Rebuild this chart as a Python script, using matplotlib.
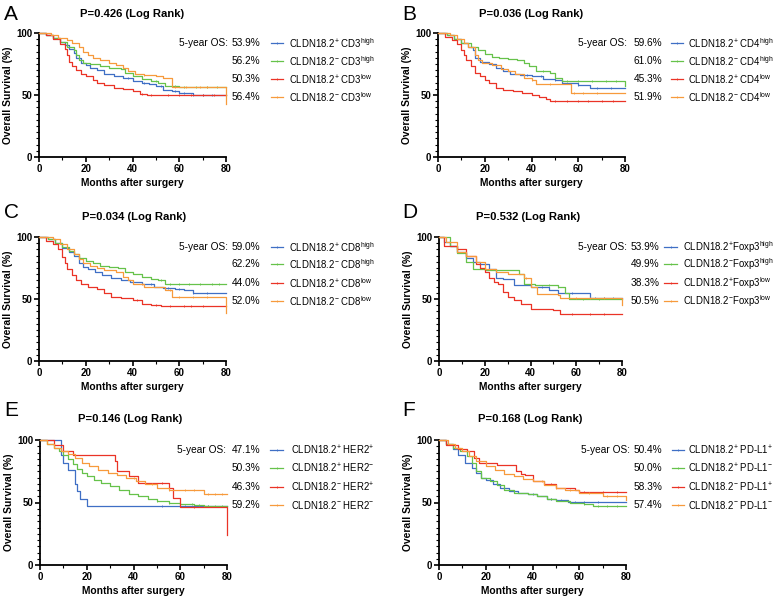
import numpy as np
import matplotlib
matplotlib.use("Agg")
import matplotlib.pyplot as plt
from matplotlib.lines import Line2D
from matplotlib.ticker import MultipleLocator

plt.rcParams['font.family'] = ['Liberation Sans', 'DejaVu Sans']
plt.rcParams['mathtext.fontset'] = 'custom'
plt.rcParams['mathtext.rm'] = 'Liberation Sans'

W, H = 777, 598
BLUE, GREEN, RED, ORANGE = '#3f6fc5', '#66c24a', '#ea3326', '#f79a3c'
COLORS = [BLUE, GREEN, RED, ORANGE]

# ---- panel A : CD3 ----
a_p_high_t = [0, 3, 6, 9, 11, 13, 15, 16, 18, 20, 22, 25, 28, 32, 36, 40, 44, 47, 50, 53, 57, 60, 66, 80]
a_p_high_s = [100, 98, 96, 93, 90, 87, 84, 80, 76, 74, 72, 70, 67, 65, 64, 61, 60, 59, 57, 54, 53, 52, 50, 50]
a_n_high_t = [0, 3, 6, 9, 12, 15, 16, 17, 19, 22, 26, 30, 35, 37, 40, 44, 48, 51, 54, 60, 80]
a_n_high_s = [100, 98, 96, 93, 89, 86, 82, 78, 76, 75, 73, 72, 71, 68, 65, 63, 61, 60, 57, 56.2, 56.2]
a_p_low_t = [0, 3, 6, 9, 11, 12, 13, 14, 16, 18, 20, 23, 25, 28, 32, 36, 40, 43, 46, 80]
a_p_low_s = [100, 98, 95, 91, 87, 82, 77, 73, 70, 67, 65, 62, 60, 58, 56, 55, 53, 51, 50.3, 50.3]
a_n_low_t = [0, 5, 8, 12, 14, 17, 19, 21, 23, 26, 30, 33, 36, 38, 41, 45, 50, 53, 57, 80, 80]
a_n_low_s = [100, 98, 96, 94, 92, 89, 85, 82, 80, 78, 76, 74, 72, 69, 67, 66, 65, 64, 56.4, 56.4, 43]
a_cens = [[38, 45, 52, 58, 62, 66, 70, 74], [50, 58, 62, 67, 72, 76], [44, 48, 55, 60, 65, 70, 75], [45, 58, 63, 69, 72]]

# ---- panel B : CD4 ----
b_p_high_t = [0, 4, 7, 10, 13, 15, 16, 18, 22, 25, 28, 31, 35, 40, 45, 50, 53, 60, 65, 80]
b_p_high_s = [100, 98, 95, 92, 89, 86, 80, 77, 75, 72, 69, 67, 66, 65, 63, 62, 60, 58, 56, 56]
b_n_high_t = [0, 4, 7, 10, 14, 17, 20, 23, 26, 30, 34, 37, 39, 42, 48, 50, 53, 80, 80]
b_n_high_s = [100, 98, 95, 92, 89, 86, 83, 81, 80, 79, 78, 76, 73, 69, 68, 64, 61, 61, 57]
b_p_low_t = [0, 3, 6, 8, 10, 11, 12, 14, 16, 18, 20, 22, 25, 28, 32, 36, 40, 43, 46, 48, 80]
b_p_low_s = [100, 97, 94, 91, 86, 82, 78, 73, 68, 65, 62, 60, 56, 54, 53, 52, 50, 48, 47, 45.3, 45.3]
b_n_low_t = [0, 5, 8, 11, 13, 16, 17, 19, 23, 27, 30, 33, 37, 40, 42, 57, 80]
b_n_low_s = [100, 98, 95, 92, 89, 82, 78, 76, 74, 71, 69, 67, 64, 62, 59, 52, 52]
b_cens = [[38, 44, 50, 60, 68, 74], [45, 55, 60, 66, 72, 76], [50, 55, 60, 64, 70, 75], [40, 48, 58, 62, 68]]

# ---- panel C : CD8 ----
c_p_high_t = [0, 4, 7, 10, 13, 15, 17, 19, 21, 24, 27, 31, 35, 39, 44, 49, 53, 58, 62, 66, 80]
c_p_high_s = [100, 98, 95, 91, 88, 85, 79, 76, 74, 72, 69, 67, 65, 64, 62, 60, 59, 58, 57, 55, 55]
c_n_high_t = [0, 4, 7, 10, 13, 15, 17, 20, 23, 26, 30, 34, 37, 40, 44, 48, 51, 54, 80]
c_n_high_s = [100, 98, 95, 92, 89, 86, 83, 81, 79, 77, 76, 75, 72, 70, 68, 66, 65, 62.2, 62.2]
c_p_low_t = [0, 3, 6, 8, 10, 11, 12, 14, 16, 18, 21, 25, 28, 31, 35, 40, 44, 48, 52, 80]
c_p_low_s = [100, 97, 94, 90, 84, 79, 74, 69, 65, 62, 60, 58, 55, 52, 51, 49, 46, 45, 44, 44]
c_n_low_t = [0, 6, 9, 12, 15, 17, 19, 22, 25, 28, 33, 36, 38, 40, 45, 53, 54, 57, 80, 80]
c_n_low_s = [100, 98, 94, 90, 86, 82, 79, 77, 75, 73, 72, 68, 65, 62, 60, 60, 57, 52, 52, 39]
c_cens = [[40, 48, 55, 60, 66, 72], [52, 56, 60, 64, 69, 74, 77], [42, 50, 56, 62, 65, 70], [44, 56, 60, 66, 72]]

# ---- panel D : Foxp3 ----
d_p_high_t = [0, 2, 5, 8, 12, 15, 18, 22, 25, 28, 33, 40, 48, 52, 66, 80]
d_p_high_s = [100, 96, 93, 88, 83, 80, 78, 74, 67, 66, 61, 60, 57, 55, 51, 51]
d_n_high_t = [0, 5, 8, 12, 15, 20, 33, 35, 37, 42, 52, 55, 57, 80]
d_n_high_s = [100, 93, 87, 80, 74, 73, 73, 70, 62, 61, 60, 55, 50, 50]
d_p_low_t = [0, 2, 8, 12, 16, 18, 20, 22, 24, 26, 28, 30, 33, 36, 40, 50, 53, 80]
d_p_low_s = [100, 93, 90, 85, 78, 75, 72, 67, 64, 62, 56, 52, 49, 46, 42, 41, 38.3, 38.3]
d_n_low_t = [0, 3, 7, 8, 12, 16, 20, 25, 30, 37, 40, 43, 52, 53, 80, 80]
d_n_low_s = [100, 96, 96, 88, 85, 80, 74, 72, 70, 67, 60, 54, 53, 50.5, 50.5, 45]
d_cens = [[45, 58, 68, 72, 76], [48, 52, 63, 70], [58, 66, 72], [38, 60, 66, 72]]

# ---- panel E : HER2 ----
e_pp_t = [0, 9, 10, 12, 15, 16, 17, 20, 80]
e_pp_s = [100, 88, 82, 76, 65, 59, 53, 47.1, 47.1]
e_pn_t = [0, 3, 6, 8, 10, 12, 14, 16, 18, 20, 23, 26, 30, 34, 38, 42, 46, 50, 55, 60, 66, 70, 80]
e_pn_s = [100, 97, 94, 91, 88, 85, 81, 77, 74, 71, 68, 66, 63, 60, 57, 55, 53, 51, 50, 49, 48, 47, 47]
e_np_t = [0, 6, 10, 14, 29, 32, 33, 38, 42, 52, 55, 57, 60, 80, 80]
e_np_s = [100, 96, 91, 88, 88, 83, 75, 71, 66, 66, 62, 54, 46.3, 46.3, 24]
e_nn_t = [0, 3, 6, 9, 12, 15, 18, 21, 25, 29, 33, 37, 41, 45, 50, 55, 62, 70, 80]
e_nn_s = [100, 97, 94, 91, 89, 86, 82, 79, 76, 74, 72, 70, 67, 65, 62, 60, 60, 57, 57]
e_cens = [[52, 62, 68, 72], [50, 55, 60, 65, 68, 72, 75, 78], [45, 52, 66], [40, 48, 55, 62, 66, 72, 75, 78]]

# ---- panel F : PD-L1 ----
f_pp_t = [0, 3, 6, 8, 11, 14, 16, 18, 20, 23, 26, 30, 34, 38, 42, 46, 50, 55, 80]
f_pp_s = [100, 97, 93, 88, 82, 78, 74, 70, 68, 65, 62, 59, 58, 57, 55, 53, 52, 50.4, 50.4]
f_pn_t = [0, 3, 6, 9, 12, 14, 16, 18, 22, 25, 28, 32, 38, 42, 46, 50, 56, 62, 66, 80]
f_pn_s = [100, 97, 94, 91, 87, 82, 75, 70, 67, 64, 60, 58, 57, 55, 53, 51, 50, 49, 47, 47]
f_np_t = [0, 3, 8, 12, 15, 17, 25, 33, 35, 37, 40, 45, 50, 58, 60, 80]
f_np_s = [100, 96, 93, 91, 86, 82, 80, 75, 73, 72, 67, 65, 62, 60, 58.3, 58.3]
f_nn_t = [0, 4, 7, 10, 13, 16, 20, 24, 28, 32, 36, 40, 45, 50, 54, 60, 70, 80, 80]
f_nn_s = [100, 97, 94, 91, 87, 83, 79, 76, 73, 71, 69, 67, 64, 62, 60, 58, 55, 55, 52]
f_cens = [[40, 48, 52, 58, 62, 68], [48, 55, 62, 68, 72, 76], [48, 62, 70, 76], [44, 50, 56, 64, 72, 76]]

panel_letters = ['A', 'B', 'C', 'D', 'E', 'F']
p_values = ['0.426', '0.036', '0.034', '0.532', '0.146', '0.168']
os_values = [['53.9%', '56.2%', '50.3%', '56.4%'],
             ['59.6%', '61.0%', '45.3%', '51.9%'],
             ['59.0%', '62.2%', '44.0%', '52.0%'],
             ['53.9%', '49.9%', '38.3%', '50.5%'],
             ['47.1%', '50.3%', '46.3%', '59.2%'],
             ['50.4%', '50.0%', '58.3%', '57.4%']]
S = r'$^{\mathrm{%s}}$'
labels = [['CLDN18.2' + S % '+' + ' CD3' + S % 'high', 'CLDN18.2' + S % '-' + ' CD3' + S % 'high',
           'CLDN18.2' + S % '+' + ' CD3' + S % 'low', 'CLDN18.2' + S % '-' + ' CD3' + S % 'low'],
          ['CLDN18.2' + S % '+' + ' CD4' + S % 'high', 'CLDN18.2' + S % '-' + ' CD4' + S % 'high',
           'CLDN18.2' + S % '+' + ' CD4' + S % 'low', 'CLDN18.2' + S % '-' + ' CD4' + S % 'low'],
          ['CLDN18.2' + S % '+' + ' CD8' + S % 'high', 'CLDN18.2' + S % '-' + ' CD8' + S % 'high',
           'CLDN18.2' + S % '+' + ' CD8' + S % 'low', 'CLDN18.2' + S % '-' + ' CD8' + S % 'low'],
          ['CLDN18.2' + S % '+' + 'Foxp3' + S % 'high', 'CLDN18.2' + S % '-' + 'Foxp3' + S % 'high',
           'CLDN18.2' + S % '+' + 'Foxp3' + S % 'low', 'CLDN18.2' + S % '-' + 'Foxp3' + S % 'low'],
          ['CLDN18.2' + S % '+' + ' HER2' + S % '+', 'CLDN18.2' + S % '+' + ' HER2' + S % '-',
           'CLDN18.2' + S % '-' + ' HER2' + S % '+', 'CLDN18.2' + S % '-' + ' HER2' + S % '-'],
          ['CLDN18.2' + S % '+' + ' PD-L1' + S % '+', 'CLDN18.2' + S % '+' + ' PD-L1' + S % '-',
           'CLDN18.2' + S % '-' + ' PD-L1' + S % '+', 'CLDN18.2' + S % '-' + ' PD-L1' + S % '-']]

curves = [
    [(a_p_high_t, a_p_high_s), (a_n_high_t, a_n_high_s), (a_p_low_t, a_p_low_s), (a_n_low_t, a_n_low_s)],
    [(b_p_high_t, b_p_high_s), (b_n_high_t, b_n_high_s), (b_p_low_t, b_p_low_s), (b_n_low_t, b_n_low_s)],
    [(c_p_high_t, c_p_high_s), (c_n_high_t, c_n_high_s), (c_p_low_t, c_p_low_s), (c_n_low_t, c_n_low_s)],
    [(d_p_high_t, d_p_high_s), (d_n_high_t, d_n_high_s), (d_p_low_t, d_p_low_s), (d_n_low_t, d_n_low_s)],
    [(e_pp_t, e_pp_s), (e_pn_t, e_pn_s), (e_np_t, e_np_s), (e_nn_t, e_nn_s)],
    [(f_pp_t, f_pp_s), (f_pn_t, f_pn_s), (f_np_t, f_np_s), (f_nn_t, f_nn_s)],
]
censors = [a_cens, b_cens, c_cens, d_cens, e_cens, f_cens]

# pixel layout of each panel: axes box (left, right, top, bottom), letter/title/legend anchors
boxes = [(39, 226, 33, 157), (438, 625, 33, 157),
         (39, 226, 237, 361), (439, 622, 237, 361),
         (40, 227, 440, 565), (439, 626, 440, 565)]
letter_xy = [(4, 14), (402, 14), (4, 213), (402, 213), (4, 411), (402, 411)]
title_x = [132, 531, 134, 528, 130, 530]
title_y = [14, 14, 217, 217, 419, 419]
leg_rows = [[43, 61, 79, 97], [43, 61, 79, 97], [247, 264, 283, 301],
            [247, 264, 283, 301], [450, 468, 487, 505], [450, 468, 487, 505]]
leg_x = [(228, 232, 271, 283, 289), (627, 634, 671, 683, 688), (228, 232, 271, 283, 289),
         (627, 631, 664, 677, 683), (226, 232, 270, 283, 291), (630, 634, 672, 684, 688)]


def fx(x):
    return x / W


def fy(y):
    return 1 - y / H


fig = plt.figure(figsize=(W / 100, H / 100), dpi=100)

for k in range(6):
    l, r, t, b = boxes[k]
    ax = fig.add_axes([fx(l), fy(b), (r - l) / W, (b - t) / H])
    for i, (tt, ss) in enumerate(curves[k]):
        ax.step(tt, ss, where='post', color=COLORS[i], lw=0.9, clip_on=False, zorder=3)
        tt_a, ss_a = np.array(tt), np.array(ss)
        cens = np.array(censors[k][i])
        idx = np.searchsorted(tt_a, cens, side='right') - 1
        ax.plot(cens, ss_a[idx], ls='none', marker='|', ms=1.8, mew=0.6,
                color=COLORS[i], clip_on=False, zorder=3)
    ax.set_xlim(0, 80)
    ax.set_ylim(0, 100)
    ax.set_xticks([0, 20, 40, 60, 80])
    ax.set_yticks([0, 50, 100])
    ax.xaxis.set_minor_locator(MultipleLocator(10))
    ax.yaxis.set_minor_locator(MultipleLocator(5))
    for side in ['top', 'right']:
        ax.spines[side].set_visible(False)
    for side in ['left', 'bottom']:
        ax.spines[side].set_linewidth(1.3)
    ax.tick_params(which='major', length=3.5, width=1.2, labelsize=7, pad=1.5)
    ax.tick_params(which='minor', length=2, width=0.8)
    for lab in ax.get_xticklabels() + ax.get_yticklabels():
        lab.set_fontweight('bold')
    ax.set_xlabel('Months after surgery', fontsize=7.4, fontweight='bold', labelpad=3)
    ax.set_ylabel('Overall Survival (%)', fontsize=7.4, fontweight='bold', labelpad=2)

    fig.text(fx(letter_xy[k][0]), fy(letter_xy[k][1]), panel_letters[k], fontsize=15,
             ha='left', va='center')
    fig.text(fx(title_x[k]), fy(title_y[k]), 'P=%s (Log Rank)' % p_values[k], fontsize=8.1,
             fontweight='bold', ha='center', va='center')

    x_os, x_pct, x_l1, x_l2, x_lab = leg_x[k]
    fig.text(fx(x_os), fy(leg_rows[k][0]), '5-year OS:', fontsize=7.3, ha='right', va='center')
    for i in range(4):
        y = leg_rows[k][i]
        fig.text(fx(x_pct), fy(y), os_values[k][i], fontsize=7.3, ha='left', va='center')
        fig.add_artist(Line2D([fx(x_l1), fx(x_l2)], [fy(y), fy(y)], color=COLORS[i], lw=0.9,
                              transform=fig.transFigure))
        fig.add_artist(Line2D([fx((x_l1 + x_l2) / 2)], [fy(y)], color=COLORS[i], marker='|',
                              ms=1.8, mew=0.6, transform=fig.transFigure))
        fig.text(fx(x_lab), fy(y), labels[k][i], fontsize=6.9, ha='left', va='center')

fig.savefig('out.png', dpi=100)
